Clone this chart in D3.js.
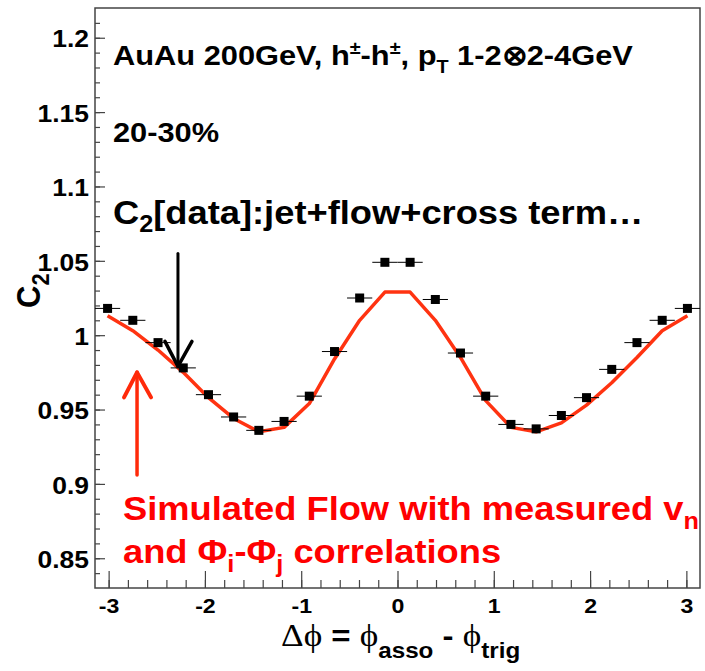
<!DOCTYPE html>
<html lang="en">
<head>
<meta charset="UTF-8">
<title>C2 vs dphi</title>
<script src="https://d3js.org/d3.v7.min.js"></script>
<style>
    body { margin: 0; background: #fff; }
    svg { display: block; }
    .tick line { stroke: #444; stroke-width: 1.2px; }
    .domain { display: none; }
</style>
</head>
<body>
<div id="chart"></div>
<script>
    // bin centres (24 bins over -pi..pi)
    const dphi = [-3.011, -2.749, -2.487, -2.225, -1.963, -1.702, -1.440, -1.178, -0.916, -0.654, -0.393, -0.131,
                  0.131, 0.393, 0.654, 0.916, 1.178, 1.440, 1.702, 1.963, 2.225, 2.487, 2.749, 3.011];
    const halfBin = 0.1309;
    // measured C2 (black squares)
    const c2Data = [1.018, 1.010, 0.995, 0.978, 0.960, 0.945, 0.936, 0.942, 0.959, 0.989, 1.025, 1.049,
                    1.049, 1.024, 0.988, 0.959, 0.940, 0.937, 0.946, 0.958, 0.977, 0.995, 1.010, 1.018];
    // simulated flow (red line)
    const c2Flow = [1.013, 1.003, 0.990, 0.975, 0.958, 0.944, 0.935, 0.938, 0.954, 0.984, 1.010, 1.029,
                    1.029, 1.010, 0.985, 0.956, 0.938, 0.935, 0.941, 0.953, 0.968, 0.985, 1.003, 1.013];

    const xTicks = [-3, -2, -1, 0, 1, 2, 3];
    const xTickLabels = ["-3", "-2", "-1", "0", "1", "2", "3"];
    const yTicks = [0.85, 0.9, 0.95, 1, 1.05, 1.1, 1.15, 1.2];
    const yTickLabels = ["0.85", "0.9", "0.95", "1", "1.05", "1.1", "1.15", "1.2"];

    // annotation arrows, in data units: [x, yStart, yTip]
    const blackArrow = [-2.28, 1.055, 0.979];
    const redArrow = [-2.705, 0.906, 0.975];

    const width = 705, height = 671;
    const frame = {left: 95, right: 700, top: 8, bottom: 588};
    const sx = 1.1; // text in the picture is slightly wide

    const svg = d3.select("#chart").append("svg")
        .attr("width", width).attr("height", height);
    svg.append("rect").attr("width", width).attr("height", height).attr("fill", "#fff");

    const x = d3.scaleLinear().domain([-Math.PI, Math.PI]).range([frame.left, frame.right]);
    const y = d3.scaleLinear().domain([0.83, 1.22]).range([frame.bottom, frame.top]);

    // minor ticks
    svg.append("g").attr("transform", `translate(0,${frame.bottom})`)
        .call(d3.axisBottom(x).tickValues(d3.range(-3.0, 3.01, 0.2)).tickSize(-8).tickFormat(""));
    svg.append("g").attr("transform", `translate(${frame.left},0)`)
        .call(d3.axisLeft(y).tickValues(d3.range(0.84, 1.215, 0.01)).tickSize(-5).tickFormat(""));

    // major ticks + labels
    const xAxis = svg.append("g").attr("transform", `translate(0,${frame.bottom})`)
        .call(d3.axisBottom(x).tickValues(xTicks).tickSize(-17).tickPadding(10)
            .tickFormat((d, i) => xTickLabels[i]));
    xAxis.selectAll("text")
        .attr("font-family", "'Liberation Sans', Arial, sans-serif")
        .attr("font-weight", "bold").attr("font-size", 21).attr("fill", "#000")
        .attr("x", 0).attr("transform", `scale(${sx},1)`);

    const yAxis = svg.append("g").attr("transform", `translate(${frame.left},0)`)
        .call(d3.axisLeft(y).tickValues(yTicks).tickSize(-10).tickPadding(6)
            .tickFormat((d, i) => yTickLabels[i]));
    yAxis.selectAll("text")
        .attr("font-family", "'Liberation Sans', Arial, sans-serif")
        .attr("font-weight", "bold").attr("font-size", 23).attr("fill", "#000")
        .attr("x", 0).attr("dy", "0.4em")
        .attr("transform", `translate(-6,0) scale(${sx + 0.05},1)`);

    // frame
    svg.append("rect")
        .attr("x", frame.left).attr("y", frame.top)
        .attr("width", frame.right - frame.left).attr("height", frame.bottom - frame.top)
        .attr("fill", "none").attr("stroke", "#444").attr("stroke-width", 1.5);

    // simulated flow line
    const line = d3.line().x(d => x(d[0])).y(d => y(d[1]));
    svg.append("path")
        .datum(dphi.map((d, i) => [d, c2Flow[i]]))
        .attr("d", line)
        .attr("fill", "none").attr("stroke", "#ff3311").attr("stroke-width", 3.5)
        .attr("stroke-linejoin", "round");

    // data points with horizontal error bars
    const pts = svg.append("g").selectAll("g")
        .data(dphi.map((d, i) => ({x: d, y: c2Data[i]})))
        .join("g");
    pts.append("line")
        .attr("x1", d => x(d.x - halfBin)).attr("x2", d => x(d.x + halfBin))
        .attr("y1", d => y(d.y)).attr("y2", d => y(d.y))
        .attr("stroke", "#000").attr("stroke-width", 1);
    pts.append("rect")
        .attr("x", d => x(d.x) - 4.5).attr("y", d => y(d.y) - 4.5)
        .attr("width", 9).attr("height", 9).attr("fill", "#000");

    // arrows
    function arrow(a, color, w) {
        const g = svg.append("g").attr("stroke", color).attr("fill", "none")
            .attr("stroke-linecap", "round").attr("stroke-linejoin", "round");
        const ax = x(a[0]), y0 = y(a[1]), y1 = y(a[2]);
        const dir = y1 > y0 ? -1 : 1;
        g.append("line").attr("x1", ax).attr("x2", ax).attr("y1", y0).attr("y2", y1)
            .attr("stroke-width", w - 0.5);
        g.append("polyline")
            .attr("points", [[ax - 13, y1 + dir * 25], [ax, y1], [ax + 14, y1 + dir * 25]].join(" "))
            .attr("stroke-width", w);
    }
    arrow(blackArrow, "#000", 3.5);
    arrow(redArrow, "#ff2a0a", 4);

    // rich text helper: parts = [text, size, dy, family]
    function richText(px, py, parts, color, family, rot) {
        const t = svg.append("text")
            .attr("transform", `translate(${px},${py}) scale(${sx},1)` + (rot ? " rotate(-90)" : ""))
            .attr("font-family", family || "'Liberation Sans', Arial, sans-serif")
            .attr("font-weight", "bold").attr("fill", color || "#000");
        parts.forEach(p => {
            const s = t.append("tspan").text(p[0]).attr("font-size", p[1]).attr("dy", p[2] || 0);
            if (p[3]) s.attr("font-family", p[3]).attr("font-weight", "normal");
        });
        return t;
    }

    richText(113, 65, [["AuAu 200GeV, h", 28], ["\u00b1", 18, -11], ["-h", 28, 11], ["\u00b1", 18, -11],
        [", p", 28, 11], ["T", 18, 8], [" 1-2\u22972-4GeV", 28, -8]]);
    richText(113, 142, [["20-30%", 28]]);
    richText(113, 224, [["C", 33], ["2", 23, 8], ["[data]:jet+flow+cross term\u2026", 33, -8]]);

    richText(123, 520, [["Simulated Flow with measured v", 33], ["n", 23, 9]], "#ff0000");
    richText(123, 563, [["and \u03a6", 33], ["i", 23, 9], ["-\u03a6", 33, -9], ["j", 23, 9],
        [" correlations", 33, -9]], "#ff0000");

    // axis titles
    richText(40, 308, [["C", 31], ["2", 22, 8]], "#000", null, true);
    const serif = "'Liberation Serif', 'DejaVu Serif', serif";
    richText(281, 646, [["\u0394\u03d5", 32, 0, serif], [" = ", 30], ["\u03d5", 32, 0, serif],
        ["asso", 22, 12], [" - ", 30, -12], ["\u03d5", 32, 0, serif], ["trig", 22, 12]]);
</script>
</body>
</html>
